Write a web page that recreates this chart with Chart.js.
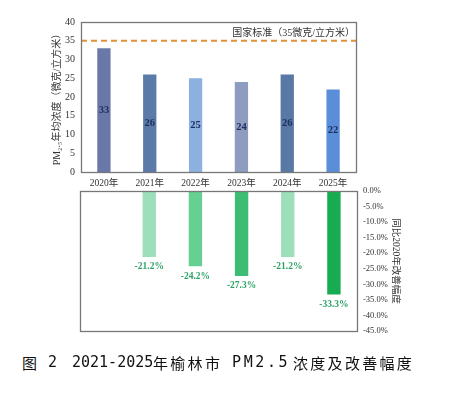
<!DOCTYPE html>
<html><head><meta charset="utf-8">
<script src="https://cdn.jsdelivr.net/npm/chart.js@4/dist/chart.umd.min.js"></script>
<style>
html,body{margin:0;padding:0;background:#fff;width:452px;height:396px;overflow:hidden;}
#c1{position:absolute;left:0;top:0;}
#c2{position:absolute;left:0;top:180px;}
.cap{position:absolute;top:355px;font-size:15px;line-height:15px;color:#111;white-space:pre;}
.cj{font-family:"Noto Sans CJK SC";letter-spacing:2.3px;}
.mo{font-family:"DejaVu Sans Mono",monospace;}
</style></head>
<body>
<canvas id="c1" width="452" height="192"></canvas>
<canvas id="c2" width="452" height="162"></canvas>
<span class="cap cj" style="left:22px">图</span>
<span class="cap mo" style="left:48px">2</span>
<span class="cap mo" style="left:72px">2021-2025</span>
<span class="cap cj" style="left:153px">年榆林市</span>
<span class="cap mo" style="left:232px;letter-spacing:2.6px">PM2.5</span>
<span class="cap cj" style="left:293px">浓度及改善幅度</span>
<script>
const years = ["2020年","2021年","2022年","2023年","2024年","2025年"];
const pm25 = [33,26,25,24,26,22];
const improvement = [null,-21.2,-24.2,-27.3,-21.2,-33.3];
const standardValue = 35;
const standardLabel = "国家标准（35微克/立方米）";
const pmColors = ["#6a78a8","#5a7aa8","#8cb0e0","#8e9cc0","#5878a6","#5b8ed8"];
const greenColors = ["#9ddfbb","#9ddfbb","#66cf92","#3dbd74","#9ddfbb","#18ac52"];

const serif = "'Liberation Serif','Times New Roman',serif";
const cjk = "'Liberation Serif','Noto Sans CJK SC',serif";

const boxPlugin = {
  id:'box',
  afterDraw(chart){
    const a = chart.chartArea, ctx = chart.ctx;
    ctx.save();
    ctx.strokeStyle = '#777';
    ctx.lineWidth = 1.3;
    ctx.strokeRect(Math.round(a.left)+0.5, Math.round(a.top)+0.5, Math.round(a.right-a.left), Math.round(a.bottom-a.top));
    ctx.restore();
  }
};

const topLabels = {
  id:'topLabels',
  afterDatasetsDraw(chart){
    const ctx = chart.ctx;
    const meta = chart.getDatasetMeta(0);
    ctx.save();
    ctx.font = "bold 10.5px " + serif;
    ctx.fillStyle = "#1f3060";
    ctx.textAlign = 'center';
    ctx.textBaseline = 'middle';
    meta.data.forEach((bar,i)=>{
      const mid = (bar.y + bar.base)/2;
      ctx.fillText(String(pm25[i]), bar.x, mid);
    });
    ctx.font = "10px 'Liberation Serif','Noto Sans CJK SC'";
    ctx.fillStyle = "#333";
    ctx.textAlign = 'right';
    ctx.fillText(standardLabel, chart.chartArea.right - 1, chart.chartArea.top + 11);
    ctx.restore();
  }
};

const bottomLabels = {
  id:'bottomLabels',
  afterDatasetsDraw(chart){
    const ctx = chart.ctx;
    const meta = chart.getDatasetMeta(0);
    ctx.save();
    ctx.font = "bold 9.5px " + serif;
    ctx.fillStyle = "#2ea266";
    ctx.textAlign = 'center';
    ctx.textBaseline = 'middle';
    meta.data.forEach((bar,i)=>{
      const v = improvement[i];
      if (v === null) return;
      ctx.fillText(v.toFixed(1)+"%", bar.x, bar.y + 10);
    });
    ctx.restore();
  }
};

new Chart(document.getElementById('c1'), {
  type:'bar',
  data:{
    labels: years,
    datasets:[
      {data: pm25, backgroundColor: pmColors, barPercentage:0.29, categoryPercentage:1, grouped:false, xAxisID:'x', yAxisID:'y', order:2},
      {type:'line', data:[{x:0,y:standardValue},{x:1,y:standardValue}], xAxisID:'x2', yAxisID:'y',
       borderColor:'#e0913a', borderWidth:2, borderDash:[6,4], pointRadius:0, fill:false, order:1}
    ]
  },
  options:{
    responsive:false, animation:false,
    layout:{padding:{top:22,right:96,left:0,bottom:0}},
    plugins:{legend:{display:false}, tooltip:{enabled:false}},
    scales:{
      x:{
        grid:{display:false, drawTicks:false}, border:{display:false},
        ticks:{color:'#333', font:{family:cjk, size:9.5}, padding:6},
        afterFit(s){ s.height = 20; }
      },
      x2:{type:'linear', display:false, min:0, max:1, offset:false, grid:{offset:false}},
      y:{
        min:0, max:40,
        grid:{display:false, drawTicks:false}, border:{display:false},
        ticks:{stepSize:5, color:'#333', font:{family:serif, size:10}, padding:6},
        title:{display:true, text:'PM₂.₅年均浓度（微克/立方米）', color:'#333', font:{family:cjk, size:10}, padding:{top:51,bottom:0}},
        afterFit(s){ s.width = 81; }
      }
    }
  },
  plugins:[boxPlugin, topLabels]
});

new Chart(document.getElementById('c2'), {
  type:'bar',
  data:{
    labels: years,
    datasets:[{data: improvement, backgroundColor: greenColors, barPercentage:0.29, categoryPercentage:1, yAxisID:'y'}]
  },
  options:{
    responsive:false, animation:false,
    layout:{padding:{top:9,right:0,left:80,bottom:7}},
    plugins:{legend:{display:false}, tooltip:{enabled:false}},
    scales:{
      x:{display:false},
      y:{
        position:'right', min:-45, max:0,
        grid:{display:false, drawTicks:false}, border:{display:false},
        ticks:{stepSize:5, color:'#333', font:{family:serif, size:8.5}, padding:6,
               callback:(v)=>Number(v).toFixed(1)+'%'},
        title:{display:true, text:'同比2020年改善幅度', color:'#333', font:{family:cjk, size:9.5}, padding:{top:51,bottom:0}},
        afterFit(s){ s.width = 95; }
      }
    }
  },
  plugins:[boxPlugin, bottomLabels]
});
</script>
</body></html>
